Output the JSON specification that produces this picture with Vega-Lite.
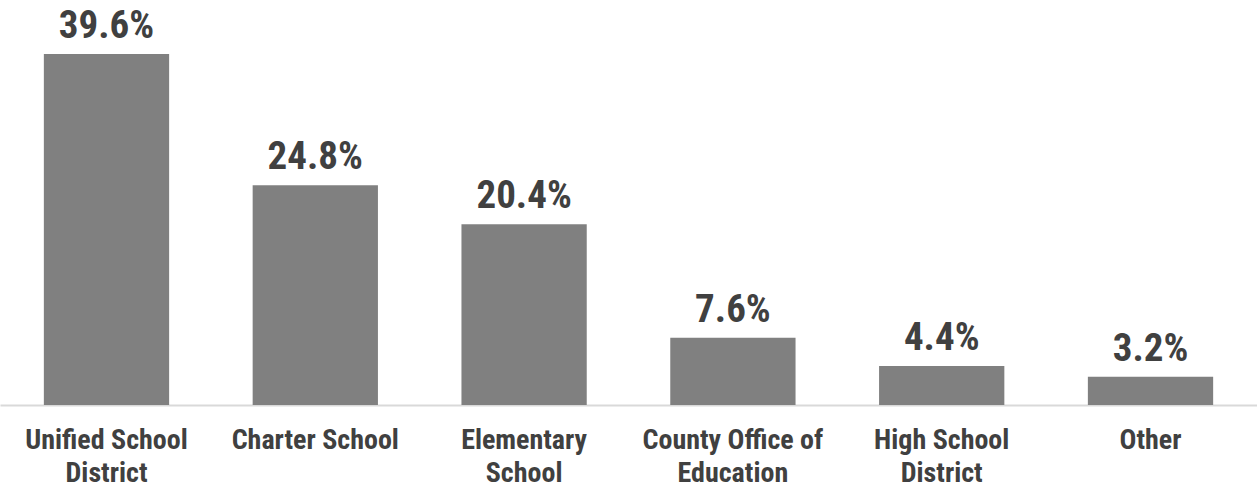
{
  "$schema": "https://vega.github.io/schema/vega-lite/v6.json",
  "autosize": "none",
  "width": 1257,
  "height": 405,
  "padding": {"top": 0, "left": 0, "right": 0, "bottom": 83},
  "background": "white",
  "config": {"view": {"stroke": null}},
  "data": {"values": [
    {"category": "Unified School District", "pct": 39.6},
    {"category": "Charter School", "pct": 24.8},
    {"category": "Elementary School", "pct": 20.4},
    {"category": "County Office of Education", "pct": 7.6},
    {"category": "High School District", "pct": 4.4},
    {"category": "Other", "pct": 3.2}
  ]},
  "encoding": {
    "x": {
      "field": "category", "type": "nominal", "sort": null,
      "scale": {"paddingInner": 0.4, "paddingOuter": 0.21},
      "axis": {
        "title": null, "labelAngle": 0, "ticks": false,
        "domainColor": "#d9d9d9", "domainWidth": 2,
        "labelFont": "Roboto Condensed, Arial Narrow, DejaVu Sans Condensed, Roboto",
        "labelFontWeight": "bold", "labelLimit": 0,
        "labelFontSize": 28, "labelColor": "#404040", "labelPadding": 21,
        "labelLineHeight": 33, "labelBaseline": "top",
        "labelExpr": "datum.value == 'Unified School District' ? ['Unified School','District'] : datum.value == 'Elementary School' ? ['Elementary','School'] : datum.value == 'County Office of Education' ? ['County Office of','Education'] : datum.value == 'High School District' ? ['High School','District'] : datum.value"
      }
    },
    "y": {
      "field": "pct", "type": "quantitative",
      "scale": {"domain": [0, 45.7], "nice": false},
      "axis": null
    }
  },
  "layer": [
    {"mark": {"type": "bar", "color": "#808080"}},
    {
      "mark": {"type": "text", "baseline": "alphabetic", "dy": -16, "font": "Roboto Condensed, Arial Narrow, DejaVu Sans Condensed, Roboto", "fontWeight": "bold", "fontSize": 39, "color": "#404040",
        "text": {"expr": "format(datum.pct, '.1f') + '%'"}}
    }
  ]
}
